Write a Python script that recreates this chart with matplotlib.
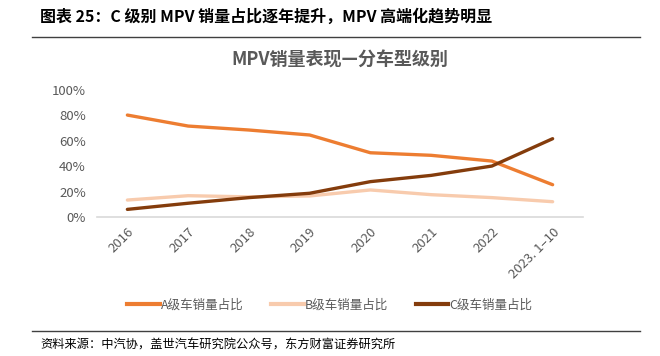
import matplotlib.pyplot as plt
from matplotlib.lines import Line2D

plt.rcParams['font.family'] = ['Noto Sans CJK SC', 'DejaVu Sans']

years = ['2016', '2017', '2018', '2019', '2020', '2021', '2022', '2023. 1–10']
a_share = [0.80, 0.714, 0.683, 0.644, 0.505, 0.485, 0.44, 0.255]
b_share = [0.135, 0.169, 0.16, 0.167, 0.214, 0.177, 0.154, 0.122]
c_share = [0.062, 0.11, 0.154, 0.188, 0.279, 0.328, 0.401, 0.615]

names = ['A级车销量占比', 'B级车销量占比', 'C级车销量占比']
colors = ['#ED7D31', '#F8CBAD', '#843C0C']

fig = plt.figure(figsize=(6.6, 3.56), dpi=100)
ax = fig.add_axes([97/660, 1 - 217.3/356, 486/660, 127.8/356])

x = list(range(len(years)))
for vals, c in zip([a_share, b_share, c_share], colors):
    ax.plot(x, vals, color=c, linewidth=2.4, solid_capstyle='round')

ax.set_xlim(-0.5, len(years) - 0.5)
ax.set_ylim(0, 1)
ax.set_yticks([0, 0.2, 0.4, 0.6, 0.8, 1.0])
ax.set_yticklabels(['0%', '20%', '40%', '60%', '80%', '100%'])
ax.set_xticks(x)
ax.set_xticklabels(years, rotation=45, ha='right', va='top', rotation_mode='anchor')
ax.tick_params(axis='both', length=0, labelsize=9.5, colors='#595959')
ax.tick_params(axis='x', pad=6)
ax.tick_params(axis='y', pad=8)
for s in ['top', 'right', 'left']:
    ax.spines[s].set_visible(False)
ax.spines['bottom'].set_color('#D9D9D9')
ax.spines['bottom'].set_linewidth(1.2)

ax.set_title('MPV销量表现—分车型级别', fontsize=13, fontweight='bold', color='#595959', pad=17)

handles = [Line2D([0], [0], color=c, linewidth=3) for c in colors]
fig.legend(handles, names, loc='center', bbox_to_anchor=(0.5, 1 - 305/356), ncol=3,
           frameon=False, fontsize=9, handlelength=2.6, handletextpad=0.1, columnspacing=2.2,
           labelcolor='#595959')

fig.text(40/660, 1 - 17/356, '图表 25：C 级别 MPV 销量占比逐年提升，MPV 高端化趋势明显',
         fontsize=11.5, fontweight='bold', va='center', ha='left')
fig.add_artist(Line2D([32/660, 640/660], [1 - 37/356, 1 - 37/356], color='#404040', linewidth=1))
fig.add_artist(Line2D([32/660, 640/660], [1 - 331/356, 1 - 331/356], color='#404040', linewidth=1))
fig.text(40/660, 1 - 345/356, '资料来源：中汽协，盖世汽车研究院公众号，东方财富证券研究所',
         fontsize=8.8, va='center', ha='left')

fig.savefig('out.png', dpi=100)
